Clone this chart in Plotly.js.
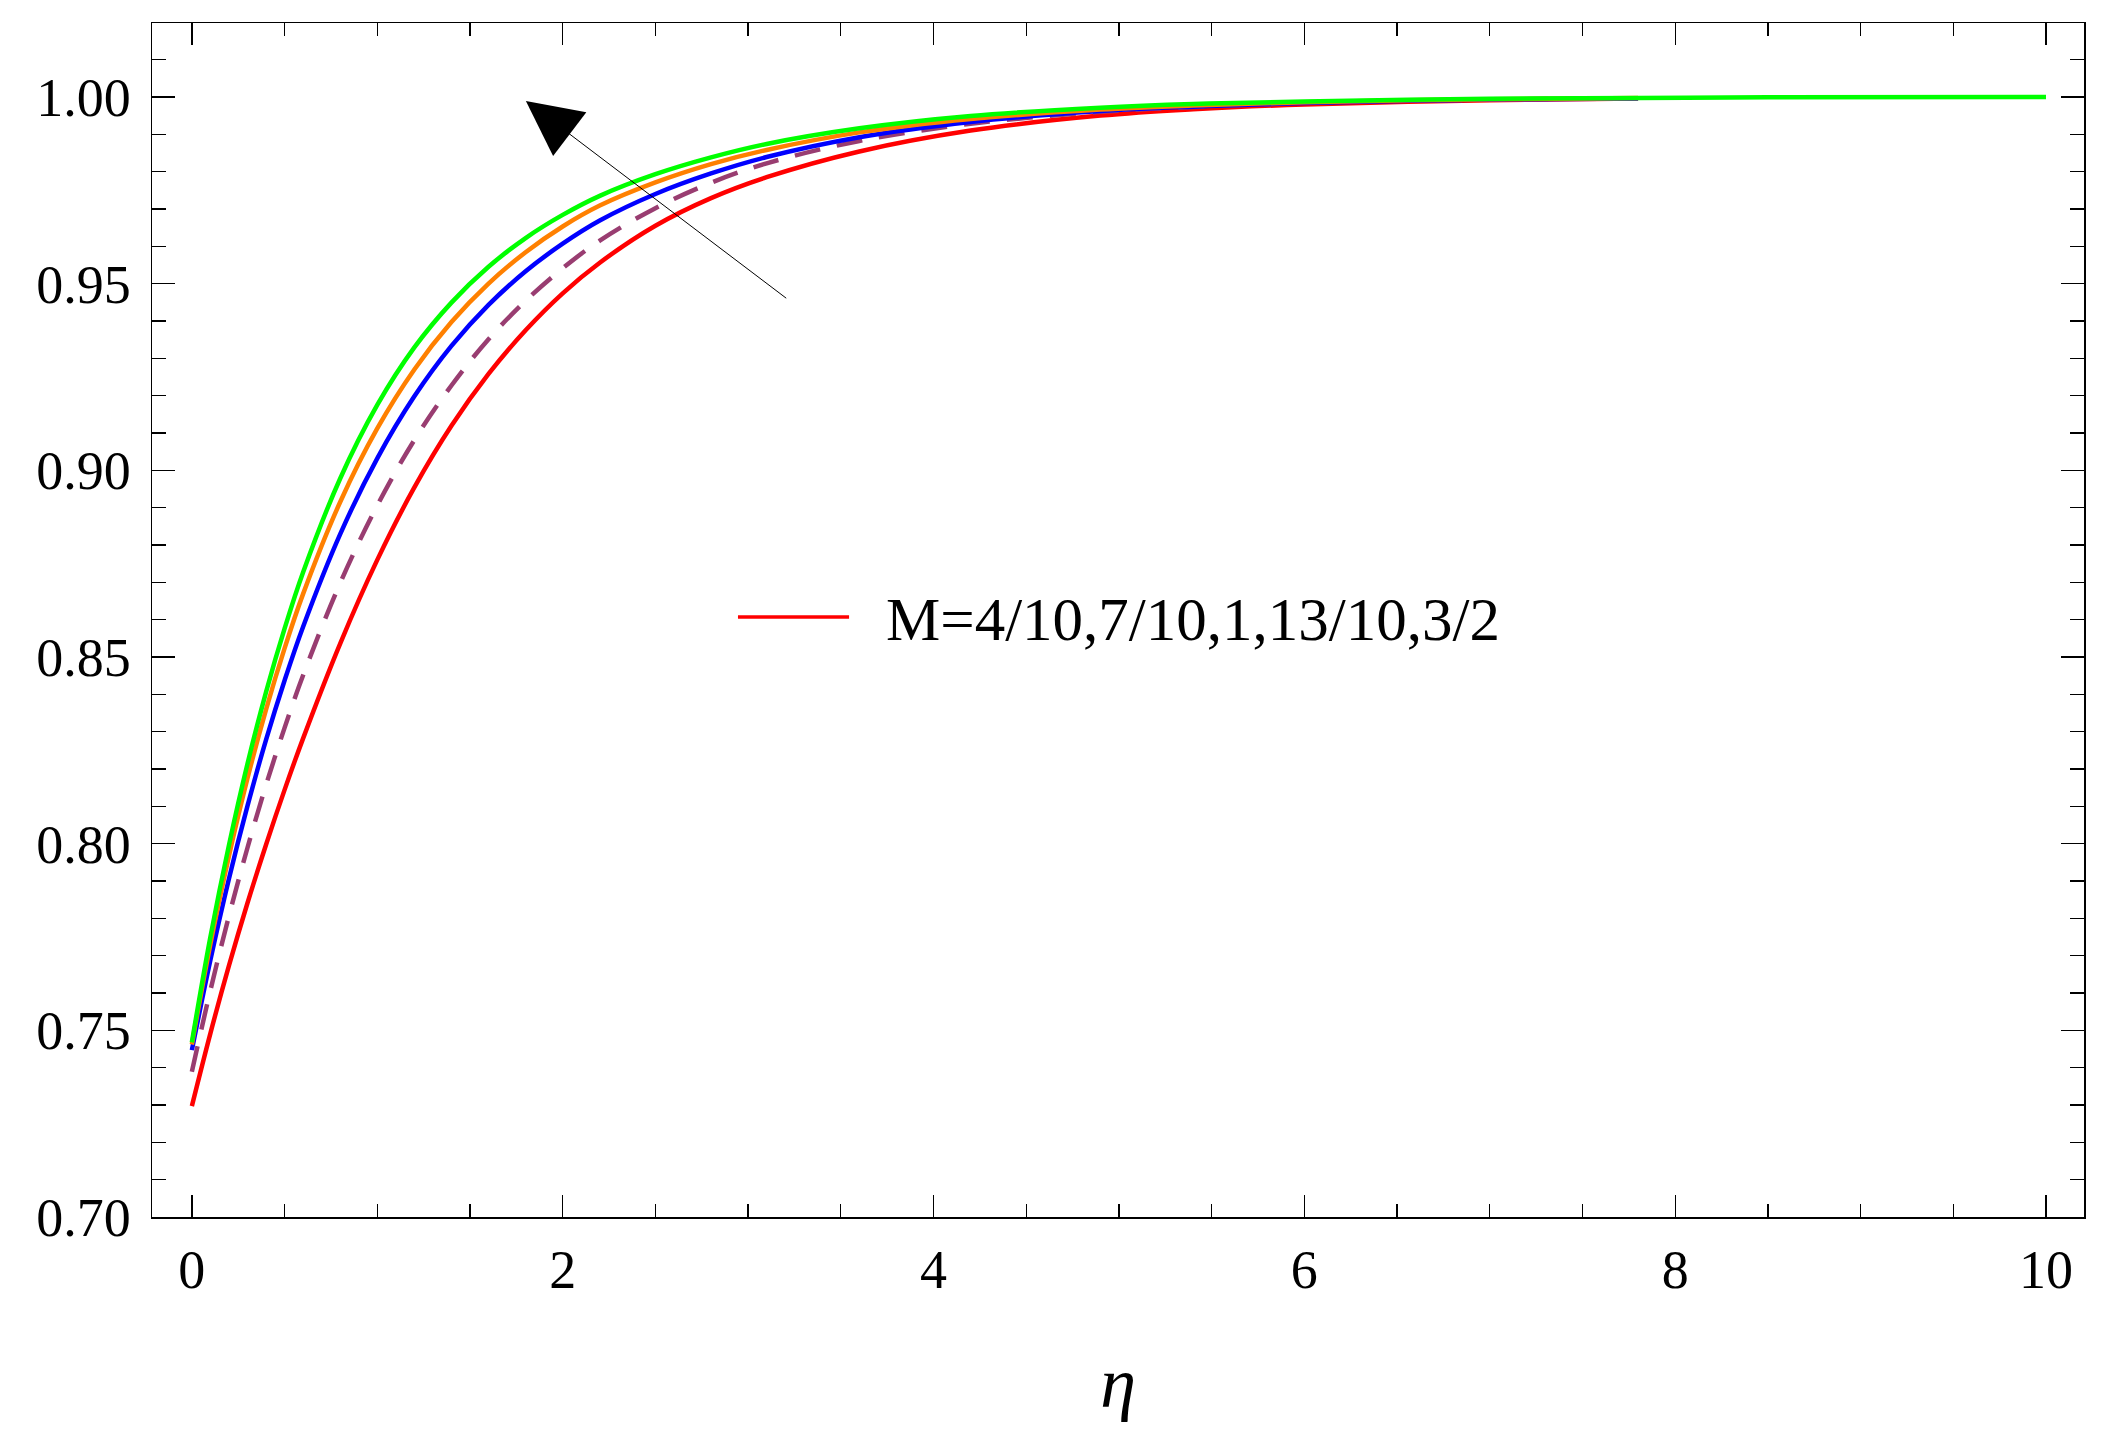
<!DOCTYPE html>
<html>
<head>
<meta charset="utf-8">
<script src="https://cdn.plot.ly/plotly-3.0.1.min.js"></script>
<style>
  html, body {margin: 0; padding: 0; background: #fff;}
  #chart {width: 2115px; height: 1437px;}
</style>
</head>
<body>
<div id="chart"></div>
<script>
// eta grid shared by the curves that stop near 7.8; green runs on to 10
var eta = [0, 0.1, 0.2, 0.3, 0.4, 0.5, 0.6, 0.8, 1.0, 1.2, 1.4, 1.6, 1.8, 2.0,
           2.2, 2.5, 2.8, 3.1, 3.6, 4.2, 4.9, 5.4, 6.0, 7.0, 7.8];
var etaTail = [8.5, 10];

var fRed    = [0.7297, 0.7492, 0.7673, 0.7841, 0.7997, 0.8144, 0.8282, 0.8536, 0.8760,
               0.8954, 0.9119, 0.9258, 0.9375, 0.9474, 0.9556, 0.9655, 0.9729, 0.9785,
               0.9854, 0.9910, 0.9950, 0.9967, 0.9980, 0.9991, 0.9996];
var fPurple = [0.7389, 0.7607, 0.7806, 0.7989, 0.8157, 0.8310, 0.8451, 0.8698, 0.8906,
               0.9081, 0.9227, 0.9351, 0.9454, 0.9541, 0.9615, 0.9702, 0.9770, 0.9822,
               0.9882, 0.9928, 0.9960, 0.9973, 0.9984, 0.9993, 0.9996];
var fBlue   = [0.7447, 0.7688, 0.7906, 0.8101, 0.8278, 0.8437, 0.8581, 0.8829, 0.9032,
               0.9198, 0.9333, 0.9443, 0.9533, 0.9607, 0.9669, 0.9740, 0.9795, 0.9839,
               0.9892, 0.9933, 0.9962, 0.9974, 0.9984, 0.9993, 0.9996];
var fOrange = [0.7462, 0.7731, 0.7967, 0.8175, 0.8359, 0.8523, 0.8669, 0.8915, 0.9112,
               0.9270, 0.9397, 0.9500, 0.9584, 0.9653, 0.9709, 0.9771, 0.9820, 0.9858,
               0.9905, 0.9941, 0.9966, 0.9977, 0.9986, 0.9994, 0.9997];
var fGreen  = [0.7468, 0.7750, 0.7996, 0.8214, 0.8406, 0.8576, 0.8727, 0.8978, 0.9175,
               0.9329, 0.9449, 0.9545, 0.9622, 0.9684, 0.9735, 0.9793, 0.9838, 0.9874,
               0.9916, 0.9949, 0.9971, 0.9981, 0.9988, 0.9995, 0.9997, 0.9999, 1.0000];

var legendLabel = 'M=4/10,7/10,1,13/10,3/2';
var serif = 'Liberation Serif, Times New Roman, serif';

function curve(x, y, color, dash) {
  return {
    x: x,
    y: y,
    mode: 'lines',
    type: 'scatter',
    line: {color: color, width: 4.5, dash: dash || 'solid', shape: 'spline', smoothing: 1},
    hoverinfo: 'skip'
  };
}

var data = [
  curve(eta, fRed, 'rgb(255,0,0)'),
  curve(eta, fPurple, 'rgb(153,61,113)', '26px,17px'),
  curve(eta, fBlue, 'rgb(0,0,255)'),
  curve(eta, fOrange, 'rgb(255,128,0)'),
  curve(eta.concat(etaTail), fGreen, 'rgb(0,255,0)')
];

var layout = {
  width: 2115,
  height: 1437,
  margin: {l: 152, r: 31, t: 23, b: 220},
  paper_bgcolor: 'white',
  plot_bgcolor: 'white',
  showlegend: false,
  font: {family: serif, size: 53, color: 'black'},
  xaxis: {
    range: [-0.215, 10.205],
    tick0: 0, dtick: 2,
    ticks: 'inside', ticklen: 22, tickwidth: 1.3, tickcolor: 'black',
    minor: {dtick: 0.5, ticks: 'inside', ticklen: 13, tickwidth: 1.3, tickcolor: 'black'},
    showline: true, linecolor: 'black', linewidth: 1.5, mirror: 'ticks',
    showgrid: false, zeroline: false, automargin: false,
    ticklabelstandoff: 5,
    tickfont: {family: serif, size: 54, color: 'black'},
    title: {text: '<i>η</i>', font: {family: serif, size: 72, color: 'black'}, standoff: 57}
  },
  yaxis: {
    range: [0.70, 1.0198],
    tick0: 0.70, dtick: 0.05, tickformat: '.2f',
    ticks: 'inside', ticklen: 23, tickwidth: 1.3, tickcolor: 'black',
    minor: {dtick: 0.01, ticks: 'inside', ticklen: 14, tickwidth: 1.3, tickcolor: 'black'},
    showline: true, linecolor: 'black', linewidth: 1.5, mirror: 'ticks',
    showgrid: false, zeroline: false, automargin: false,
    ticklabelstandoff: 9,
    tickfont: {family: serif, size: 54, color: 'black'}
  },
  shapes: [
    // legend key for the red curve
    {type: 'line', xref: 'paper', yref: 'paper', x0: 0.3033, x1: 0.3608, y0: 0.5025, y1: 0.5025,
     line: {color: 'rgb(255,0,0)', width: 3.5}}
  ],
  annotations: [
    {xref: 'paper', yref: 'paper', x: 0.3789, y: 0.5008, xanchor: 'left', yanchor: 'middle',
     text: legendLabel, showarrow: false, font: {family: serif, size: 61, color: 'black'}},
    // arrow showing the direction of increasing M
    {x: 1.8015, y: 0.99893, ax: 3.2487, ay: 0.94447, axref: 'x', ayref: 'y',
     text: ' ', showarrow: true, arrowhead: 2, arrowsize: 11, arrowwidth: 1,
     arrowcolor: 'black', standoff: 0}
  ]
};

Plotly.newPlot('chart', data, layout, {staticPlot: true});
</script>
</body>
</html>
